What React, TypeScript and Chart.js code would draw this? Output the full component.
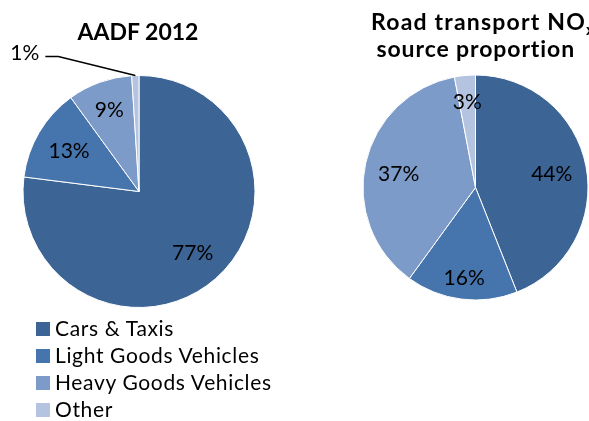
import React, { useEffect, useRef } from "react";
import { Chart, registerables } from "chart.js";

Chart.register(...registerables);

// ---- data ----
const categories = ["Cars & Taxis", "Light Goods Vehicles", "Heavy Goods Vehicles", "Other"];
const aadfValues = [77, 13, 9, 1];
const noxValues = [44, 16, 37, 3];
const sliceColors = ["#3C6495", "#4675AD", "#7D9BC8", "#B4C4E0"];
const aadfTitle = "AADF 2012";
const noxTitleLine1 = "Road transport NO";
const noxTitleSub = "x";
const noxTitleLine2 = "source proportion";

const FONT = "Lato, 'Open Sans', sans-serif";

// label placement (style, not data)
const aadfPlace = [
  { r: 0.7, dy: 0 },
  { r: 0.7, dy: 0 },
  { r: 0.755, dy: 0 },
  { outside: true, dx: -77, dy: -19, tail: -13 },
];
const noxPlace = [
  { r: 0.69, dy: 0 },
  { r: 0.8, dy: 0 },
  { r: 0.7, dy: 3 },
  { r: 0.77, dy: 0 },
];

const pctLabels = {
  id: "pctLabels",
  afterDatasetsDraw(chart: any, _args: any, opts: any) {
    const ctx = chart.ctx as CanvasRenderingContext2D;
    const meta = chart.getDatasetMeta(0);
    const data = chart.data.datasets[0].data as number[];
    const place = opts.place || [];
    ctx.save();
    ctx.font = `21px ${FONT}`;
    ctx.fillStyle = "#000";
    ctx.textBaseline = "middle";
    meta.data.forEach((arc: any, i: number) => {
      const { x, y, startAngle, endAngle, outerRadius } = arc.getProps(
        ["x", "y", "startAngle", "endAngle", "outerRadius"],
        true
      );
      const mid = (startAngle + endAngle) / 2;
      const p = place[i] || { r: 0.7, dy: 0 };
      const text = data[i] + "%";
      if (p.outside) {
        const ax = x + Math.cos(mid) * outerRadius;
        const ay = y + Math.sin(mid) * outerRadius;
        const ex = ax + p.dx;
        const ey = ay + p.dy;
        ctx.beginPath();
        ctx.moveTo(ax, ay);
        ctx.lineTo(ex, ey);
        ctx.lineTo(ex + p.tail, ey);
        ctx.strokeStyle = "#000";
        ctx.lineWidth = 1.5;
        ctx.stroke();
        ctx.textAlign = "right";
        ctx.fillText(text, ex + p.tail - 6, ey - 3);
      } else {
        ctx.textAlign = "center";
        const r = outerRadius * p.r;
        ctx.fillText(text, x + Math.cos(mid) * r, y + Math.sin(mid) * r + 1 + p.dy);
      }
    });
    ctx.restore();
  },
};

type PieProps = {
  values: number[];
  place: any[];
  left: number;
  top: number;
  width: number;
  height: number;
  padding: { left: number; right: number; top: number; bottom: number };
};

function PieChart({ values, place, left, top, width, height, padding }: PieProps) {
  const ref = useRef<HTMLCanvasElement>(null);
  useEffect(() => {
    const chart = new Chart(ref.current as HTMLCanvasElement, {
      type: "pie",
      data: {
        labels: categories,
        datasets: [
          {
            data: values,
            backgroundColor: sliceColors,
            borderColor: "#ffffff",
            borderWidth: 1,
          },
        ],
      },
      options: {
        responsive: false,
        animation: false,
        layout: { padding },
        plugins: {
          legend: { display: false },
          tooltip: { enabled: false },
          pctLabels: { place },
        } as any,
      },
      plugins: [pctLabels as any],
    });
    return () => chart.destroy();
  }, []);
  return (
    <canvas
      ref={ref}
      width={width}
      height={height}
      style={{ position: "absolute", left, top, width, height }}
    />
  );
}

const titleStyle: React.CSSProperties = {
  position: "absolute",
  fontWeight: 700,
  fontSize: 23,
  lineHeight: "27px",
  whiteSpace: "nowrap",
};

export default function App() {
  return (
    <div
      style={{
        position: "fixed",
        left: 0,
        top: 0,
        width: 589,
        height: 421,
        background: "#fff",
        overflow: "hidden",
        fontFamily: FONT,
        color: "#000",
      }}
    >
      <PieChart
        values={aadfValues}
        place={aadfPlace}
        left={0}
        top={0}
        width={300}
        height={421}
        padding={{ left: 22.5, right: 44.5, top: 75, bottom: 113 }}
      />
      <PieChart
        values={noxValues}
        place={noxPlace}
        left={300}
        top={0}
        width={289}
        height={421}
        padding={{ left: 62.5, right: 0.5, top: 74.5, bottom: 120.5 }}
      />
      <div style={{ ...titleStyle, left: 0, width: 276, top: 17.6, textAlign: "center" }}>
        {aadfTitle}
      </div>
      <div style={{ ...titleStyle, left: 371, top: 8.1, letterSpacing: "1.2px" }}>
        {noxTitleLine1}
        <span style={{ fontSize: 16, verticalAlign: "-5px", lineHeight: 0, letterSpacing: 0 }}>
          {noxTitleSub}
        </span>
      </div>
      <div style={{ ...titleStyle, left: 376.5, top: 35.1, letterSpacing: "0.9px" }}>
        {noxTitleLine2}
      </div>
      <div
        style={{
          position: "absolute",
          left: 36,
          top: 314.3,
          fontSize: 21,
          lineHeight: "27px",
          letterSpacing: "0.65px",
        }}
      >
        {categories.map((c, i) => (
          <div key={c} style={{ whiteSpace: "nowrap", height: 27 }}>
            <span
              style={{
                display: "inline-block",
                width: 14,
                height: 14,
                background: sliceColors[i],
                marginRight: 5,
                verticalAlign: "baseline",
              }}
            />
            {c}
          </div>
        ))}
      </div>
    </div>
  );
}
